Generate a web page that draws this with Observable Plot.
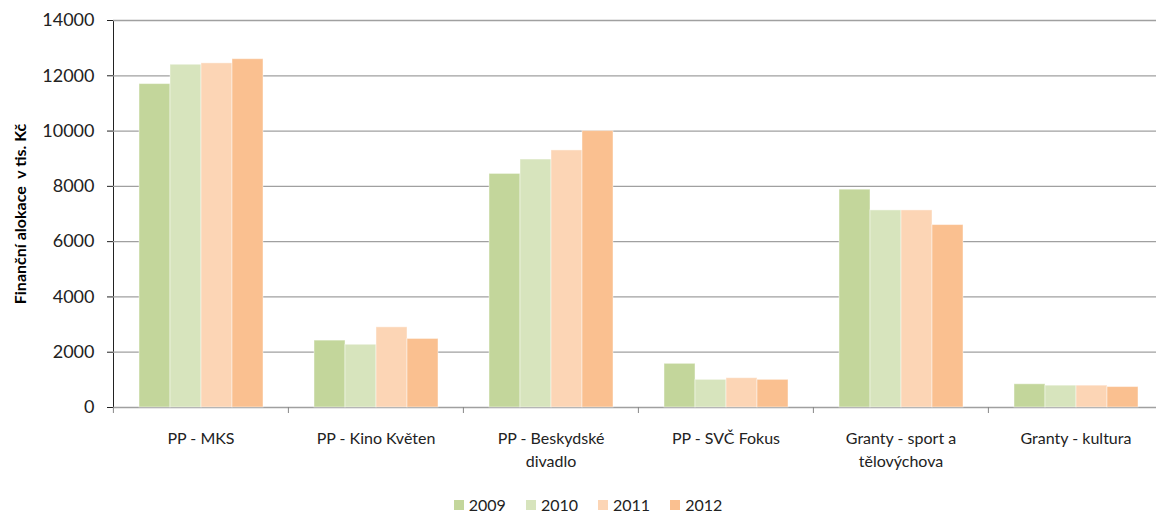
<!DOCTYPE html>
<html><head><meta charset="utf-8">
<script src="https://cdn.jsdelivr.net/npm/d3@7"></script>
<script src="https://cdn.jsdelivr.net/npm/@observablehq/plot@0.6"></script>
<style>
body{margin:0;background:#fff;font-family:Lato,"Open Sans",sans-serif;}
#chart svg{display:block;overflow:hidden}
g[aria-label="y-axis label"]{font-weight:bold;font-size:16px;fill:#000}
g[aria-label="y-axis tick label"]{font-size:18px}
#legend{display:flex;justify-content:center;align-items:center;height:29px;padding-left:20px;font-size:16px;color:#222}
#legend .item{display:flex;align-items:center;margin:0 10px}
#legend .sw{width:10px;height:10px;margin-right:5px}
</style></head><body>
<div id="chart"></div>
<div id="legend"></div>
<script>
const categories = ["PP - MKS","PP - Kino Květen","PP - Beskydské divadlo","PP - SVČ Fokus","Granty - sport a tělovýchova","Granty - kultura"];
const categoryLabels = ["PP - MKS","PP - Kino Květen","PP - Beskydské\ndivadlo","PP - SVČ Fokus","Granty - sport a\ntělovýchova","Granty - kultura"];
const years = ["2009","2010","2011","2012"];
const colors = ["#c3d69b","#d7e4bd","#fcd5b5","#fac090"];
const v2009 = [11700, 2420, 8450, 1580, 7880, 840];
const v2010 = [12400, 2270, 8970, 1000, 7130, 790];
const v2011 = [12450, 2900, 9300, 1060, 7130, 790];
const v2012 = [12600, 2480, 10000, 1000, 6600, 740];
const yTicks = [0, 2000, 4000, 6000, 8000, 10000, 12000, 14000];
const yLabel = "Finanční alokace  v tis. Kč";

const series = [v2009, v2010, v2011, v2012];
const data = categories.flatMap((c, i) => years.map((y, j) => ({category: c, year: y, value: series[j][i]})));

const chart = Plot.plot({
  width: 1156, height: 490,
  marginTop: 20, marginBottom: 83, marginLeft: 112, marginRight: -8,
  style: {fontFamily: "Lato, 'Open Sans', sans-serif", fontSize: "17px", color: "#222", background: "#fff"},
  fx: {domain: categories, padding: 0, axis: null, label: null},
  x: {domain: years, paddingInner: 0, paddingOuter: 0.765, axis: null},
  y: {domain: [0, 14000], ticks: yTicks, tickSize: 6, tickPadding: 13, tickFormat: d => String(d),
      label: yLabel, labelArrow: "none", labelAnchor: "center", labelOffset: 99, line: true},
  color: {domain: years, range: colors},
  marks: [
    Plot.ruleY(yTicks, {stroke: "#a0a0a0", strokeWidth: 1.3}),
    Plot.barY(data, {fx: "category", x: "year", y: "value", fill: "year", inset: 0, stroke: "#fff", strokeOpacity: 0.45, strokeWidth: 1}),
    Plot.axisFx({anchor: "bottom", tickSize: 0, tickPadding: 21, label: null, lineHeight: 1.4, fontSize: 16,
                 tickFormat: d => categoryLabels[categories.indexOf(d)]}),
    Plot.axisFx({anchor: "bottom", tickSize: 6, tickFormat: () => "", dx: -87.6, label: null, stroke: "#888"})
  ]
});
// keep the axis title free of any direction arrow
chart.querySelectorAll('g[aria-label="y-axis label"] text').forEach(t => { t.textContent = yLabel; });
document.getElementById("chart").append(chart);

const legend = document.getElementById("legend");
years.forEach((y, i) => {
  const it = document.createElement("div"); it.className = "item";
  const sw = document.createElement("span"); sw.className = "sw"; sw.style.background = colors[i];
  const t = document.createElement("span"); t.textContent = y;
  it.append(sw, t); legend.append(it);
});
</script>
</body></html>
